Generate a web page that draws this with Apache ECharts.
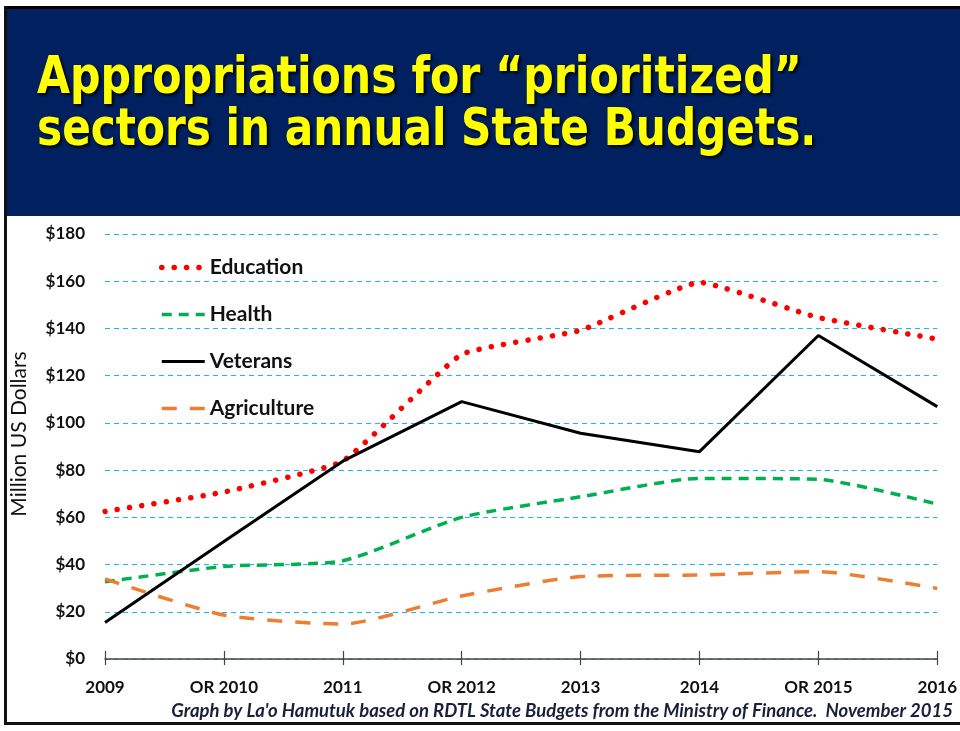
<!DOCTYPE html>
<html>
<head>
<meta charset="utf-8">
<script src="https://cdn.jsdelivr.net/npm/echarts@6/dist/echarts.min.js"></script>
<style>
  html, body { margin: 0; padding: 0; background: #fff; }
  #chart { width: 960px; height: 731px; }
</style>
</head>
<body>
<div id="chart"></div>
<script>
// Budget years (OR = rectified budget)
const years = ['2009', 'OR 2010', '2011', 'OR 2012', '2013', '2014', 'OR 2015', '2016'];

// Appropriations, million US dollars
const education   = [62.5, 70.7, 83.8, 129.0, 139.2, 159.5, 144.6, 135.5];
const health      = [32.7, 39.2, 41.6, 60.0, 68.7, 76.5, 76.1, 65.6];
const veterans    = [15.5, 49.8, 83.8, 109.0, 95.6, 87.8, 137.0, 106.9];
const agriculture = [33.9, 18.6, 14.8, 26.7, 34.9, 35.6, 37.0, 29.9];

const yTicks = { min: 0, max: 180, step: 20 };

const titleLines = ['Appropriations for \u201cprioritized\u201d', 'sectors in annual State Budgets.'];
const yAxisTitle = 'Million US Dollars';
const credit = "Graph by La'o Hamutuk based on RDTL State Budgets from the Ministry of Finance.  November 2015";

// line styles shared by the series and their legend entries
const styles = {
  Education:   { color: '#FF0000', width: 5.5, type: [0.1, 12.3], cap: 'round' },
  Health:      { color: '#00B050', width: 3.5, type: [10, 7] },
  Veterans:    { color: '#000000', width: 3 },
  Agriculture: { color: '#ED7D31', width: 3.5, type: [15, 13] }
};

const chart = echarts.init(document.getElementById('chart'), null, { renderer: 'canvas' });

const labelFont = { fontFamily: 'Lato', fontWeight: 'bold', fontSize: 17, color: '#111' };
const titleStyle = {
  fill: '#FFFF00',
  font: 'bold 51px "DejaVu Sans Condensed"',
  verticalAlign: 'middle',
  textShadowColor: 'rgba(0,0,0,0.95)', textShadowBlur: 3, textShadowOffsetX: 2, textShadowOffsetY: 2
};

chart.setOption({
  backgroundColor: '#ffffff',
  animation: false,
  graphic: [
    // title banner
    { type: 'rect', shape: { x: 5, y: 8, width: 955, height: 208 }, style: { fill: '#012060' }, z: 0 },
    { type: 'rect', shape: { x: 5, y: 6, width: 955, height: 3 }, style: { fill: '#000' }, z: 1 },
    // frame: left and bottom edges
    { type: 'rect', shape: { x: 4, y: 6, width: 3, height: 719 }, style: { fill: '#111' }, z: 1 },
    { type: 'rect', shape: { x: 4, y: 722, width: 956, height: 3 }, style: { fill: '#111' }, z: 1 },
    {
      type: 'text', x: 37, y: 80, scaleX: 0.93, z: 2,
      style: Object.assign({ text: titleLines[0] }, titleStyle)
    },
    {
      type: 'text', x: 37, y: 132, scaleX: 0.92, z: 2,
      style: Object.assign({ text: titleLines[1] }, titleStyle)
    },
    {
      type: 'text', x: 19, y: 434, rotation: Math.PI / 2, z: 2,
      style: {
        text: yAxisTitle, fill: '#111', font: '21px Lato',
        align: 'center', verticalAlign: 'middle'
      }
    },
    {
      type: 'text', right: 7, top: 702, z: 2,
      style: {
        text: credit, fill: '#1a1f3a',
        font: 'italic bold 18.5px Lato'
      }
    }
  ],
  legend: {
    orient: 'vertical',
    left: 154,
    top: 252,
    itemWidth: 43,
    itemHeight: 24,
    itemGap: 26,
    itemStyle: { opacity: 0 },
    textStyle: { fontFamily: 'Lato', fontWeight: 'bold', fontSize: 21, color: '#111' },
    data: Object.keys(styles).map(name => ({ name: name, lineStyle: styles[name] }))
  },
  grid: { left: 105, right: 20, top: 234, bottom: 72, containLabel: false },
  xAxis: [
    {
      type: 'category', data: years, boundaryGap: false,
      axisLine: { lineStyle: { color: '#444', width: 1.5 } },
      axisTick: { show: true, length: 6, alignWithLabel: true, lineStyle: { color: '#444', width: 1.2 } },
      axisLabel: Object.assign({ margin: 20, interval: 0 }, labelFont),
      splitLine: { show: false }
    },
    {
      type: 'category', data: years, boundaryGap: false, position: 'bottom',
      axisLine: { show: false },
      axisTick: { show: true, inside: true, length: 8, lineStyle: { color: '#444', width: 1.2 } },
      axisLabel: { show: false },
      splitLine: { show: false }
    }
  ],
  yAxis: {
    type: 'value', min: yTicks.min, max: yTicks.max, interval: yTicks.step,
    axisLine: { show: false },
    axisTick: { show: false },
    axisLabel: Object.assign({ margin: 20, formatter: v => '$' + v }, labelFont),
    splitLine: { lineStyle: { color: '#1CB8F0', type: [5, 4], width: 1 } }
  },
  series: [
    {
      name: 'Education', type: 'line', data: education, smooth: 0.12, symbol: 'none',
      lineStyle: styles.Education, itemStyle: { color: styles.Education.color }, z: 4
    },
    {
      name: 'Health', type: 'line', data: health, smooth: 0.2, symbol: 'none',
      lineStyle: styles.Health, itemStyle: { color: styles.Health.color }, z: 3
    },
    {
      name: 'Veterans', type: 'line', data: veterans, smooth: false, symbol: 'none',
      lineStyle: styles.Veterans, itemStyle: { color: styles.Veterans.color }, z: 5
    },
    {
      name: 'Agriculture', type: 'line', data: agriculture, smooth: 0.2, symbol: 'none',
      lineStyle: styles.Agriculture, itemStyle: { color: styles.Agriculture.color }, z: 3
    }
  ]
});
</script>
</body>
</html>
